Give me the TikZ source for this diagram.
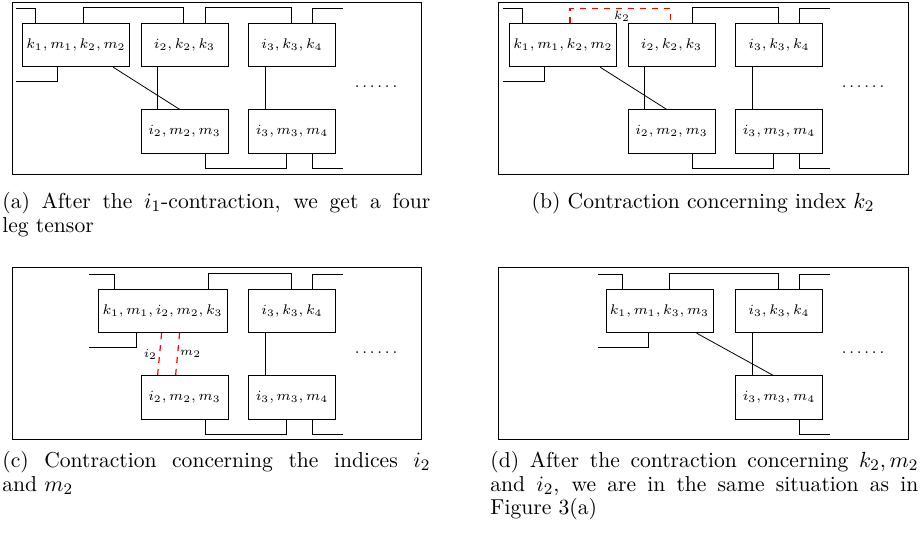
\documentclass[tikz,border=0pt]{standalone}
\usepackage{amssymb}
\usepackage{amsmath}
\usepackage{color}
\usepackage{tikz}
\usetikzlibrary{shapes,arrows}

\begin{document}
\begin{tikzpicture}[x=0.5pt, y=-0.5pt,
    tensor/.style={draw, rectangle, font=\fontsize{6.9}{8}\selectfont, minimum width=43.5pt, minimum height=21.75pt, inner sep=2pt},
    contract/.style={draw=red, line width=0.6pt, dashed},
    idxlabel/.style={text=black, font=\fontsize{6.5}{8}\selectfont, inner sep=1pt},
    dotsnode/.style={font=\footnotesize, inner sep=0pt},
    subcap/.style={anchor=north west, inner sep=0pt, text width=214pt, align=justify, font=\fontsize{10.8}{11.75}\selectfont}]
    \useasboundingbox (0,0) rectangle (920,533);
    % (a) four leg tensor
    \draw (12,2) rectangle (421,174);
    \node[tensor, minimum width=52pt] (a1) at (76,45) {$k_1,m_1,k_2,m_2$};
    \node[tensor] (a2) at (184.5,45) {$i_2,k_2,k_3$};
    \node[tensor] (a3) at (292,45) {$i_3,k_3,k_4$};
    \node[tensor] (a4) at (184.5,131.5) {$i_2,m_2,m_3$};
    \node[tensor] (a5) at (292,131.5) {$i_3,m_3,m_4$};
    \node[dotsnode] (adots) at (376,87) {$\ldots\ldots$};
    \coordinate (aTL) at (16,8);
    \coordinate (aTR) at (343,8);
    \coordinate (aBL) at (16,81);
    \coordinate (aBR) at (343,168);
    \draw (aTL) -| ([xshift=6.5pt]a1.north west);
    \draw ([xshift=30.5pt]a1.north west) -- ++(0,-15) -| ([xshift=21.5pt]a2.north west);
    \draw ([xshift=32.5pt]a2.north west) -- ++(0,-15) -| ([xshift=21.5pt]a3.north west);
    \draw ([xshift=32pt]a3.north west) |- (aTR);
    \draw ([xshift=17.5pt]a1.south west) |- (aBL);
    \draw ([xshift=45.5pt]a1.south west) -- ([xshift=19.5pt]a4.north west);
    \draw ([xshift=8.5pt]a2.south west) -- ([xshift=8.5pt]a4.north west);
    \draw ([xshift=8.5pt]a3.south west) -- ([xshift=8.5pt]a5.north west);
    \draw ([xshift=32.5pt]a4.south west) -- ++(0,15) -| ([xshift=19pt]a5.south west);
    \draw ([xshift=32pt]a5.south west) |- (aBR);
    \node[subcap] (capa) at (2,192) {(a) After the $i_1$-contraction, we get a four\linebreak leg tensor};

    % (b) contraction over k_2
    \draw (498,2) rectangle (908,174);
    \node[tensor, minimum width=52pt] (b1) at (563,45) {$k_1,m_1,k_2,m_2$};
    \node[tensor] (b2) at (671.5,45) {$i_2,k_2,k_3$};
    \node[tensor] (b3) at (779,45) {$i_3,k_3,k_4$};
    \node[tensor] (b4) at (671.5,131.5) {$i_2,m_2,m_3$};
    \node[tensor] (b5) at (779,131.5) {$i_3,m_3,m_4$};
    \node[dotsnode] (bdots) at (863,87) {$\ldots\ldots$};
    \coordinate (bTL) at (503,8);
    \coordinate (bTR) at (830,8);
    \coordinate (bBL) at (503,81);
    \coordinate (bBR) at (830,168);
    \coordinate (bK) at (622,8.5);
    \draw (bTL) -| ([xshift=6.5pt]b1.north west);
    \draw[contract] ([xshift=30.5pt]b1.north west) |- (bK) -| ([xshift=21.5pt]b2.north west);
    \node[idxlabel, below] (bKlab) at (bK) {$k_2$};
    \draw ([xshift=32.5pt]b2.north west) -- ++(0,-15) -| ([xshift=21.5pt]b3.north west);
    \draw ([xshift=32pt]b3.north west) |- (bTR);
    \draw ([xshift=17.5pt]b1.south west) |- (bBL);
    \draw ([xshift=45.5pt]b1.south west) -- ([xshift=19.5pt]b4.north west);
    \draw ([xshift=8.5pt]b2.south west) -- ([xshift=8.5pt]b4.north west);
    \draw ([xshift=8.5pt]b3.south west) -- ([xshift=8.5pt]b5.north west);
    \draw ([xshift=32.5pt]b4.south west) -- ++(0,15) -| ([xshift=19pt]b5.south west);
    \draw ([xshift=32pt]b5.south west) |- (bBR);
    \node[anchor=north, inner sep=0pt, font=\fontsize{10.8}{11.75}\selectfont] (capb) at (703,192) {(b) Contraction concerning index $k_2$};

    % (c) contraction over i_2 and m_2
    \draw (12,267) rectangle (421,439);
    \node[tensor, minimum width=64.5pt] (c1) at (162.5,311) {$k_1,m_1,i_2,m_2,k_3$};
    \node[tensor] (c2) at (292,311) {$i_3,k_3,k_4$};
    \node[tensor] (c3) at (184.5,397.5) {$i_2,m_2,m_3$};
    \node[tensor] (c4) at (292,397.5) {$i_3,m_3,m_4$};
    \node[dotsnode] (cdots) at (376,353) {$\ldots\ldots$};
    \coordinate (cTL) at (89,274);
    \coordinate (cTR) at (343,274);
    \coordinate (cBL) at (89,347);
    \coordinate (cBR) at (343,434);
    \draw (cTL) -| ([xshift=8.5pt]c1.north west);
    \draw ([xshift=55.5pt]c1.north west) -- ++(0,-15) -| ([xshift=21.5pt]c2.north west);
    \draw ([xshift=32pt]c2.north west) |- (cTR);
    \draw ([xshift=19.5pt]c1.south west) |- (cBL);
    \draw[contract] ([xshift=32pt]c1.south west) -- node[idxlabel, left] (cIlab) {$i_2$} ([xshift=8.5pt]c3.north west);
    \draw[contract] ([xshift=41pt]c1.south west) -- node[idxlabel, right] (cMlab) {$m_2$} ([xshift=17.5pt]c3.north west);
    \draw ([xshift=8.5pt]c2.south west) -- ([xshift=8.5pt]c4.north west);
    \draw ([xshift=32.5pt]c3.south west) -- ++(0,15) -| ([xshift=19pt]c4.south west);
    \draw ([xshift=32pt]c4.south west) |- (cBR);
    \node[subcap] (capc) at (2,451) {(c) Contraction concerning the indices $i_2$\linebreak and $m_2$};

    % (d) back to the situation of (a)
    \draw (498,267) rectangle (908,439);
    \node[tensor, minimum width=53.5pt] (d1) at (659.5,311) {$k_1,m_1,k_3,m_3$};
    \node[tensor] (d2) at (779,311) {$i_3,k_3,k_4$};
    \node[tensor] (d3) at (779,397.5) {$i_3,m_3,m_4$};
    \node[dotsnode] (ddots) at (863,353) {$\ldots\ldots$};
    \coordinate (dTL) at (598,274);
    \coordinate (dTR) at (830,274);
    \coordinate (dBL) at (598,347);
    \coordinate (dBR) at (830,434);
    \draw (dTL) -| ([xshift=8.5pt]d1.north west);
    \draw ([xshift=32pt]d1.north west) -- ++(0,-15) -| ([xshift=21.5pt]d2.north west);
    \draw ([xshift=32pt]d2.north west) |- (dTR);
    \draw ([xshift=21.5pt]d1.south west) |- (dBL);
    \draw ([xshift=45.5pt]d1.south west) -- ([xshift=19pt]d3.north west);
    \draw ([xshift=8.5pt]d2.south west) -- ([xshift=8.5pt]d3.north west);
    \draw ([xshift=32pt]d3.south west) |- (dBR);
    \node[subcap] (capd) at (490,451) {(d) After the contraction concerning $k_2,m_2$\linebreak and $i_2$, we are in the same situation as in\linebreak Figure 3(a)};
  \end{tikzpicture}
\end{document}
